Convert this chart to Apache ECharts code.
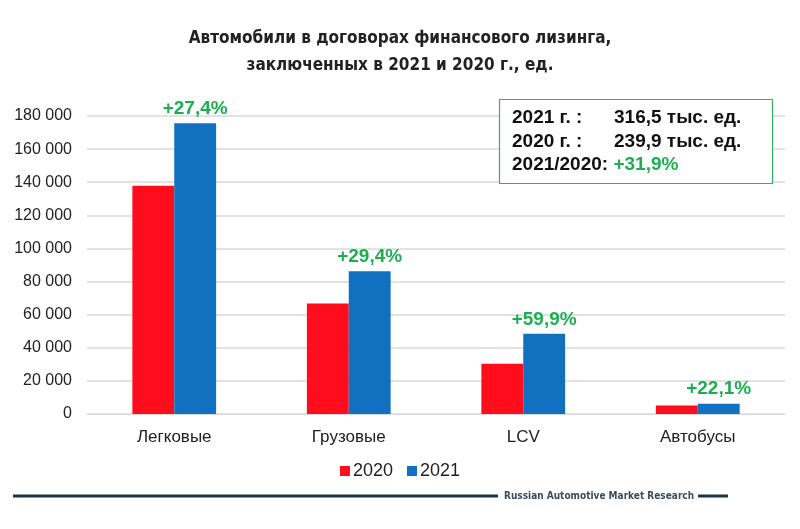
<!DOCTYPE html>
<html><head><meta charset="utf-8">
<script src="https://cdn.jsdelivr.net/npm/echarts@6/dist/echarts.min.js"></script>
<style>html,body{margin:0;padding:0;background:#fff}#c{width:800px;height:529px}</style>
</head><body><div id="c"></div>
<script>
const categories = ['Легковые', 'Грузовые', 'LCV', 'Автобусы'];
const values2020 = [137800, 66700, 30300, 5100];
const values2021 = [175600, 86300, 48400, 6250];
const growthLabels = ['+27,4%', '+29,4%', '+59,9%', '+22,1%'];
const yTicks = [0, 20000, 40000, 60000, 80000, 100000, 120000, 140000, 160000, 180000];
const seriesNames = ['2020', '2021'];

const chart = echarts.init(document.getElementById('c'));
const fmt = v => v === 0 ? '0' : String(v).replace(/\B(?=(\d{3})+(?!\d))/g, ' ');
const boxFont = 'bold 19px "Liberation Sans", Arial, sans-serif';
chart.setOption({
  animation: false,
  title: {
    text: 'Автомобили в договорах финансового лизинга,\nзаключенных в 2021 и 2020 г., ед.',
    left: 'center', top: 20,
    textStyle: { fontFamily: '"Liberation Sans Narrow", "DejaVu Sans Condensed", sans-serif', fontWeight: 'bold', fontSize: 17, color: '#222', lineHeight: 27 }
  },
  grid: { left: 87, right: 15, top: 116, bottom: 115 },
  legend: {
    data: seriesNames, bottom: 44, left: 'center', itemWidth: 10, itemHeight: 10, itemGap: 14,
    icon: 'rect',
    textStyle: { fontFamily: 'Liberation Sans, Arial, sans-serif', fontSize: 18, color: '#222', padding: [0, 0, 0, -2] }
  },
  xAxis: {
    type: 'category', data: categories,
    axisLine: { show: true, lineStyle: { color: '#d9d9d9' } },
    axisTick: { show: false },
    axisLabel: { fontFamily: 'Liberation Sans, Arial, sans-serif', fontSize: 17, color: '#222', margin: 15 }
  },
  yAxis: {
    type: 'value', min: yTicks[0], max: yTicks[yTicks.length - 1], interval: yTicks[1] - yTicks[0],
    axisLine: { show: false }, axisTick: { show: false },
    splitLine: { lineStyle: { color: '#d9d9d9', width: 1.5 } },
    axisLabel: { formatter: fmt, fontFamily: 'Liberation Sans, Arial, sans-serif', fontSize: 16, color: '#222', margin: 15 }
  },
  series: [
    { name: seriesNames[0], type: 'bar', data: values2020, barWidth: '24%', barGap: '0%',
      itemStyle: { color: '#FF0D1D' } },
    { name: seriesNames[1], type: 'bar', data: values2021, barWidth: '24%', barGap: '0%',
      itemStyle: { color: '#1170BF' },
      label: { show: true, position: 'top', distance: 5,
        formatter: p => growthLabels[p.dataIndex],
        fontFamily: 'Liberation Sans, Arial, sans-serif', fontWeight: 'bold', fontSize: 19, color: '#1DAE50' } }
  ],
  graphic: [
    { type: 'rect', shape: { x: 499.5, y: 99.5, width: 273, height: 84 },
      style: { fill: '#fff', stroke: '#2DB45A', lineWidth: 1.2 }, z: 10 },
    { type: 'text', x: 512, y: 118, z: 11,
      style: { text: '2021 г. :', font: boxFont, fill: '#111', verticalAlign: 'middle' } },
    { type: 'text', x: 614, y: 118, z: 11,
      style: { text: '316,5 тыс. ед.', font: boxFont, fill: '#111', verticalAlign: 'middle' } },
    { type: 'text', x: 512, y: 142, z: 11,
      style: { text: '2020 г. :', font: boxFont, fill: '#111', verticalAlign: 'middle' } },
    { type: 'text', x: 614, y: 142, z: 11,
      style: { text: '239,9 тыс. ед.', font: boxFont, fill: '#111', verticalAlign: 'middle' } },
    { type: 'text', x: 512, y: 165, z: 11,
      style: { text: '{a|2021/2020: }{b|+31,9%}', verticalAlign: 'middle',
        rich: { a: { font: boxFont, fill: '#111' },
                b: { font: boxFont, fill: '#1DAE50' } } } },
    { type: 'rect', shape: { x: 13, y: 494.5, width: 485, height: 3 }, style: { fill: '#1F3347' } },
    { type: 'text', x: 504, y: 496, style: { text: 'Russian Automotive Market Research', verticalAlign: 'middle',
        font: 'bold 10px "Liberation Sans Narrow", "DejaVu Sans Condensed", sans-serif', fill: '#3A4A5C' } },
    { type: 'rect', shape: { x: 698, y: 494.5, width: 30, height: 3 }, style: { fill: '#1F3347' } }
  ]
});
</script></body></html>
